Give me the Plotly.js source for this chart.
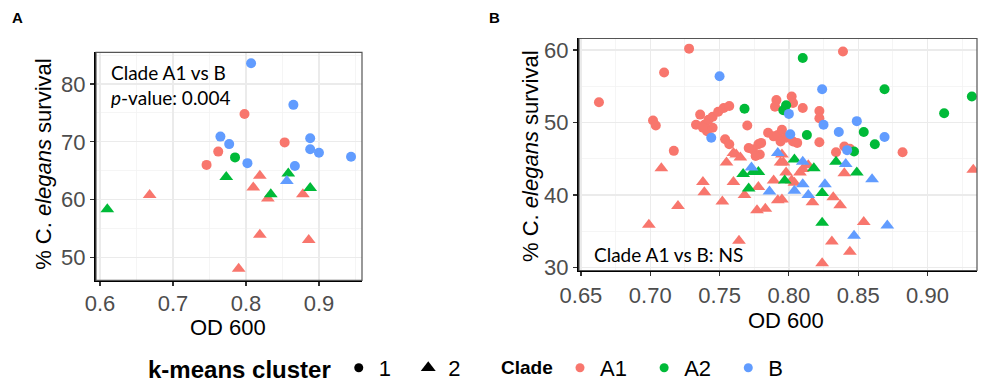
<!DOCTYPE html>
<html><head><meta charset="utf-8">
<script src="https://cdn.plot.ly/plotly-3.0.1.min.js"></script>
<style>html,body{margin:0;padding:0;background:#fff}#chart{width:982px;height:389px}</style>
</head><body><div id="chart"></div>
<script>
// ---------- Data ----------
const cladeNames = ['A1', 'A2', 'B'];
const clusterNames = ['1', '2'];
const cladeColors = ['#F8766D', '#00BA38', '#619CFF'];

// Panel A (cluster 1 = circles, cluster 2 = triangles)
const A_c1_A1_od = [0.798, 0.762, 0.746, 0.853];
const A_c1_A1_surv = [74.8, 68.3, 66.0, 69.9];
const A_c1_A2_od = [0.785];
const A_c1_A2_surv = [67.3];
const A_c1_B_od = [0.807, 0.865, 0.765, 0.777, 0.802, 0.867, 0.888, 0.888, 0.900, 0.944];
const A_c1_B_surv = [83.6, 76.4, 70.9, 69.6, 66.3, 65.8, 70.6, 68.7, 68.1, 67.4];
const A_c2_A1_od = [0.819, 0.810, 0.830, 0.668, 0.819, 0.790, 0.878, 0.886];
const A_c2_A1_surv = [64.1, 62.1, 60.2, 60.8, 53.9, 48.0, 60.9, 53.0];
const A_c2_A2_od = [0.773, 0.834, 0.858, 0.888, 0.610];
const A_c2_A2_surv = [63.9, 60.9, 64.5, 62.0, 58.3];
const A_c2_B_od = [0.856];
const A_c2_B_surv = [63.2];

// Panel B
const B_c1_A1_od = [0.728,0.710,0.663,0.702,0.704,0.717,0.770,0.736,0.733,0.739,0.742,0.745,0.749,0.753,0.757,0.745,0.741,0.738,0.754,0.757,0.771,0.774,0.778,0.780,0.779,0.776,0.785,0.789,0.792,0.795,0.798,0.803,0.794,0.806,0.791,0.790,0.802,0.803,0.810,0.822,0.822,0.822,0.839,0.882,0.844,0.834,0.840];
const B_c1_A1_surv = [60.2,56.9,52.8,50.3,49.6,46.1,49.6,51.1,49.7,49.7,50.4,50.8,51.5,52.0,52.3,49.3,48.8,49.3,47.7,47.0,46.5,46.3,47.0,47.2,45.6,45.4,48.6,48.1,48.3,49.0,47.9,47.4,47.4,47.2,53.1,52.2,53.6,52.7,52.0,51.6,50.6,47.3,59.8,45.9,46.4,45.9,46.7];
const B_c1_A2_od = [0.768,0.798,0.796,0.810,0.869,0.932,0.912,0.813,0.854,0.862,0.847];
const B_c1_A2_surv = [51.9,52.4,51.7,58.9,54.6,53.6,51.3,48.3,48.7,47.0,46.0];
const B_c1_B_od = [0.750,0.744,0.800,0.824,0.825,0.801,0.849,0.836,0.869,0.842];
const B_c1_B_surv = [56.4,47.9,51.2,54.6,49.7,48.4,50.2,48.7,48.0,46.2];
const B_c2_A1_od = [0.814,0.840,0.796,0.798,0.802,0.804,0.808,0.810,0.817,0.832,0.837,0.795,0.854,0.831,0.844,0.824,0.762,0.755,0.760,0.765,0.760,0.789,0.768,0.778,0.792,0.738,0.739,0.752,0.777,0.783,0.764,0.795,0.794,0.708,0.720,0.699,0.933];
const B_c2_A1_surv = [44.1,43.0,44.5,43.1,42.0,41.7,43.1,43.6,39.0,39.7,38.6,39.4,36.3,33.6,32.2,30.6,45.6,44.5,45.8,45.2,41.8,42.0,40.0,41.1,39.3,41.8,40.4,39.1,37.9,38.1,33.7,45.6,44.5,43.7,38.5,35.9,43.5];
const B_c2_A2_od = [0.804,0.818,0.834,0.849,0.797,0.824,0.824,0.767,0.774,0.778,0.771];
const B_c2_A2_surv = [44.9,43.7,44.6,43.1,42.0,40.3,36.2,42.9,43.2,43.2,40.9];
const B_c2_B_od = [0.810,0.841,0.860,0.804,0.810,0.814,0.826,0.871,0.847,0.773,0.786,0.792];
const B_c2_B_surv = [44.6,44.3,42.2,40.6,41.5,40.0,41.5,35.8,34.4,43.8,40.5,45.8];

const panelA = [
  [[A_c1_A1_od, A_c1_A1_surv], [A_c1_A2_od, A_c1_A2_surv], [A_c1_B_od, A_c1_B_surv]],
  [[A_c2_A1_od, A_c2_A1_surv], [A_c2_A2_od, A_c2_A2_surv], [A_c2_B_od, A_c2_B_surv]]
];
const panelB = [
  [[B_c1_A1_od, B_c1_A1_surv], [B_c1_A2_od, B_c1_A2_surv], [B_c1_B_od, B_c1_B_surv]],
  [[B_c2_A1_od, B_c2_A1_surv], [B_c2_A2_od, B_c2_A2_surv], [B_c2_B_od, B_c2_B_surv]]
];

// ---------- Traces ----------
const symbols = ['circle', 'triangle-up'];
const sizes = [10, 12];
const traces = [];
function addPanel(groups, xa, ya) {
  groups.forEach((byClade, ci) => {
    byClade.forEach((pair, k) => {
      traces.push({
        type: 'scatter', mode: 'markers', x: pair[0], y: pair[1],
        xaxis: xa, yaxis: ya, showlegend: false, hoverinfo: 'skip',
        marker: {symbol: symbols[ci], size: sizes[ci], color: cladeColors[k], line: {width: 0}}
      });
    });
  });
}
addPanel(panelA, 'x', 'y');
addPanel(panelB, 'x2', 'y2');

// legend-only traces
const NB = '\u00A0';
clusterNames.forEach((c, i) => traces.push({
  type: 'scatter', mode: 'markers', x: [null], y: [null], xaxis: 'x', yaxis: 'y',
  name: c + NB + NB, legend: 'legend', showlegend: true,
  marker: {symbol: symbols[i], size: i === 0 ? 9 : 13, color: '#000'}
}));
cladeNames.forEach((c, i) => traces.push({
  type: 'scatter', mode: 'markers', x: [null], y: [null], xaxis: 'x', yaxis: 'y',
  name: c + NB + NB, legend: 'legend2', showlegend: true,
  marker: {symbol: 'circle', size: 9, color: cladeColors[i]}
}));

// ---------- Layout ----------
const W = 982, H = 389;
const px = v => v / W, py = v => 1 - v / H;
const tickFont = {family: 'Liberation Sans, Arial, sans-serif', size: 22, color: '#4D4D4D'};
function axisBase(extra) {
  return Object.assign({
    showgrid: true, gridcolor: '#EBEBEB', gridwidth: 1.3,
    ticks: 'outside', ticklen: 4, tickwidth: 1.2, tickcolor: '#333333',
    tickfont: tickFont, showline: true, linecolor: '#000', linewidth: 2,
    zeroline: false, automargin: false, fixedrange: true
  }, extra);
}
const minorGrid = d => ({dtick: d, showgrid: true, gridcolor: '#F3F3F3', gridwidth: 0.8, ticks: ''});

const titleFont = {family: 'Liberation Sans, Arial, sans-serif', size: 22, color: '#000'};
const noteFont = {family: 'Lato, sans-serif', size: 19, color: '#000'};
function ann(text, x, y, extra) {
  return Object.assign({text: text, xref: 'paper', yref: 'paper', x: px(x), y: py(y),
    xanchor: 'center', yanchor: 'middle', showarrow: false, font: titleFont}, extra || {});
}

const layout = {
  width: W, height: H,
  margin: {l: 0, r: 0, t: 0, b: 0},
  paper_bgcolor: '#fff', plot_bgcolor: '#fff',
  font: {family: 'Liberation Sans, Arial, sans-serif'},
  xaxis: axisBase({domain: [px(96), px(362)], range: [0.5945, 0.959], anchor: 'y',
    tick0: 0.6, dtick: 0.1, tickformat: '.1f', minor: minorGrid(0.05), ticklabelstandoff: -2}),
  yaxis: axisBase({domain: [py(284), py(53)], range: [46.0, 85.5], anchor: 'x',
    tick0: 0, dtick: 10, minor: minorGrid(5)}),
  xaxis2: axisBase({domain: [px(579), px(977)], range: [0.6486, 0.9357], anchor: 'y2',
    tick0: 0.65, dtick: 0.05, tickformat: '.2f', minor: minorGrid(0.025)}),
  yaxis2: axisBase({domain: [py(274), py(39)], range: [29.6, 61.6], anchor: 'x2',
    tick0: 0, dtick: 10, minor: minorGrid(5)}),
  shapes: [
    {type: 'rect', xref: 'x domain', yref: 'y domain', x0: 0, x1: 1, y0: 0, y1: 1,
     line: {color: '#555', width: 1.2}, fillcolor: 'rgba(0,0,0,0)', layer: 'above'},
    {type: 'rect', xref: 'x2 domain', yref: 'y2 domain', x0: 0, x1: 1, y0: 0, y1: 1,
     line: {color: '#555', width: 1.2}, fillcolor: 'rgba(0,0,0,0)', layer: 'above'}
  ],
  annotations: [
    ann('<b>A</b>', 17, 18, {font: {family: 'Liberation Sans, Arial', size: 15, color: '#000'}}),
    ann('<b>B</b>', 494, 18, {font: {family: 'Liberation Sans, Arial', size: 15, color: '#000'}}),
    ann('% C. <i>elegans</i> survival', 44, 166, {textangle: -90}),
    ann('% C. <i>elegans</i> survival', 531, 158, {textangle: -90}),
    ann('OD 600', 228, 332),
    ann('OD 600', 786, 325),
    ann('Clade A1 vs B<br><i>p</i>-value: 0.004', 109, 60, {xanchor: 'left', yanchor: 'top', align: 'left', font: noteFont}),
    ann('Clade A1 vs B: NS', 592, 258, {xanchor: 'left', align: 'left', font: noteFont}),
    ann('<b>Clade</b>', 527, 372, {font: {family: 'Liberation Sans, Arial', size: 19, color: '#000'}})
  ],
  legend: {orientation: 'h', x: px(146), xanchor: 'left', y: py(373), yanchor: 'middle',
    title: {text: '<b>k-means cluster</b>', side: 'left', font: {size: 24, color: '#000', family: 'Liberation Sans, Arial'}},
    font: {size: 22, color: '#000', family: 'Liberation Sans, Arial'}, itemwidth: 30,
    bgcolor: 'rgba(0,0,0,0)', traceorder: 'normal'},
  legend2: {orientation: 'h', x: px(560), xanchor: 'left', y: py(373), yanchor: 'middle',
    font: {size: 22, color: '#000', family: 'Liberation Sans, Arial'}, itemwidth: 30,
    bgcolor: 'rgba(0,0,0,0)', traceorder: 'normal'}
};

Plotly.newPlot('chart', traces, layout, {staticPlot: true, displayModeBar: false});
</script>
</body></html>
